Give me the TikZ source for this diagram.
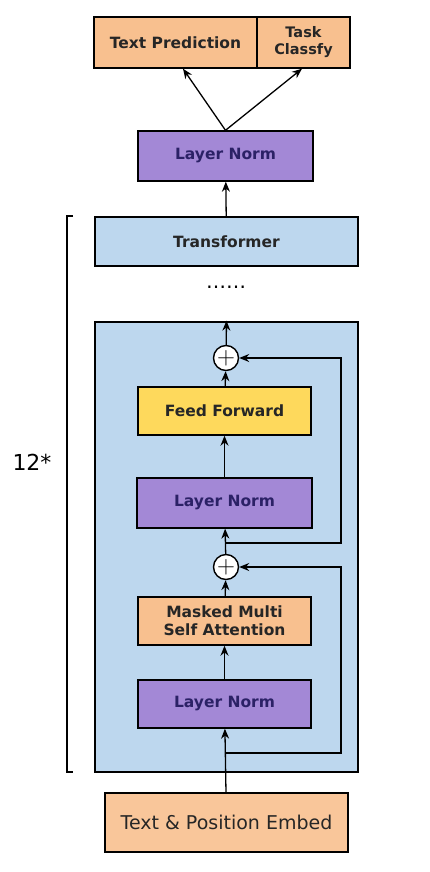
\documentclass[tikz,border=0pt]{standalone}
\usepackage{fontspec}
\setmainfont{DejaVu Sans}
\usetikzlibrary{arrows.meta}
\definecolor{peach}{HTML}{F8C08F}
\definecolor{lilac}{HTML}{A388D6}
\definecolor{sky}{HTML}{BDD7EE}
\definecolor{butter}{HTML}{FED95C}
\definecolor{navy}{HTML}{2B2166}
\begin{document}
\begin{tikzpicture}[x=1pt,y=-1pt,thick,>={Stealth[length=10pt,width=8pt]},
    box node/.style={rectangle,draw,line width=1.4pt,font=\bfseries\fontsize{15.5}{18}\selectfont,text=black!85,align=center,inner sep=0pt},
    norm node/.style={box node,fill=lilac,text=navy,minimum width=175pt,minimum height=50pt},
    add node/.style={circle,draw,fill=white,line width=1.4pt,minimum size=25pt,inner sep=0pt,font=\fontsize{26}{26}\selectfont}]
    \useasboundingbox (0,0) rectangle (430,872);

    % outputs
    \node[box node,fill=peach,minimum width=163pt,minimum height=51pt] at (175.5, 42.5) (pred) {Text Prediction};
    \node[box node,fill=peach,minimum width=93pt,minimum height=51pt,font=\bfseries\fontsize{14.5}{17}\selectfont] at (303.5, 42.5) (task) {Task\\Classfy};
    \node[norm node] at (225.5, 156) (norm top) {Layer Norm};

    % stacked blocks
    \node[box node,fill=sky,minimum width=263pt,minimum height=49pt] at (226.5, 241.5) (trans) {Transformer};
    \node at (226, 287) (dots) {\fontsize{20}{20}\selectfont ……};
    \node[rectangle,draw,fill=sky,line width=2.6pt,minimum width=263pt,minimum height=450pt] at (226.5, 547) (block) {};

    \node[add node] at (226, 358) (plus a) {$+$};
    \node[box node,fill=butter,minimum width=173pt,minimum height=48pt] at (224.5, 411) (ff) {Feed Forward};
    \node[norm node] at (224.5, 503) (norm b) {Layer Norm};
    \node[add node] at (226, 567) (plus b) {$+$};
    \node[box node,fill=peach,minimum width=173pt,minimum height=48pt] at (224.5, 621) (attn) {Masked Multi\\Self Attention};
    \node[norm node,minimum width=173pt,minimum height=48pt] at (224.5, 704) (norm c) {Layer Norm};

    \node[box node,fill=peach!90!white,minimum width=243pt,minimum height=59pt,font=\fontsize{19}{21}\selectfont] at (226.5, 822.5) (embed) {Text \& Position Embed};

    \node[font=\fontsize{22}{22}\selectfont] at (32, 462) (times) {12*};

    % residual taps
    \coordinate (tap b) at (226, 753);
    \coordinate (turn b) at (341, 753);
    \coordinate (tap a) at (226, 543);
    \coordinate (turn a) at (341, 543);

    \path[->,line width=1.3pt]
        (embed) edge (norm c)
        (norm c) edge (attn)
        (attn) edge (plus b)
        (plus b) edge (norm b)
        (norm b) edge (ff)
        (ff) edge (plus a)
        (plus a) edge (block.north)
        (trans) edge (norm top)
        (norm top.north) edge (pred.south -| 183,0)
        (norm top.north) edge (task.south -| 302,0)
        ;
    \draw[->,line width=1.3pt] (tap b) -- (turn b) |- (plus b.east);
    \draw[->,line width=1.3pt] (tap a) -- (turn a) |- (plus a.east);

    % repeat bracket
    \coordinate (brace top) at (67, 216);
    \coordinate (brace bot) at (67, 772);
    \draw[line width=1.6pt] ([xshift=6pt]brace top) -- (brace top) -- (brace bot) -- ([xshift=6pt]brace bot);
\end{tikzpicture}
\end{document}
